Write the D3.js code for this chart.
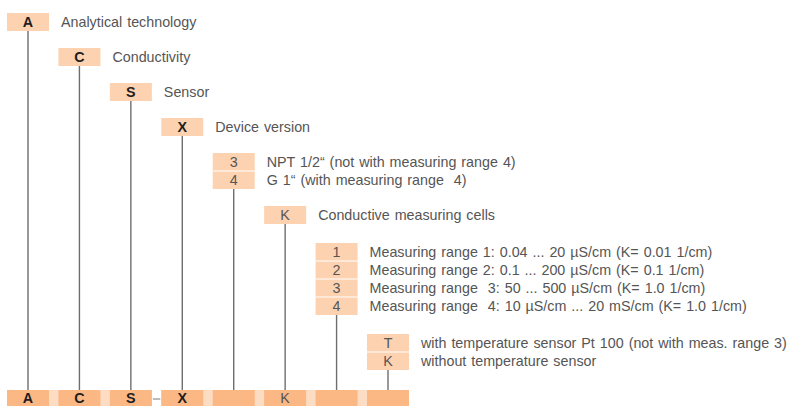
<!DOCTYPE html>
<html>
<head>
<meta charset="utf-8">
<script src="https://cdn.jsdelivr.net/npm/d3@7"></script>
<style>
  body { margin: 0; background: #fff; }
  svg { display: block; font-family: "Liberation Sans", Arial, sans-serif; }
  .label { white-space: pre; word-spacing: 1px; }
</style>
</head>
<body>
<div id="chart"></div>
<script>
// Type code: one column per position
const bottomCodes = ['A', 'C', 'S', 'X', '', 'K', '', ''];
const boldColumns = [0, 1, 2, 3];
const optionCodes = [
    ['A'], ['C'], ['S'], ['X'], ['3', '4'], ['K'], ['1', '2', '3', '4'], ['T', 'K']
];
const optionTexts = [
    ['Analytical technology'],
    ['Conductivity'],
    ['Sensor'],
    ['Device version'],
    ['NPT 1/2\u201c (not with measuring range 4)', 'G 1\u201c (with measuring range  4)'],
    ['Conductive measuring cells'],
    ['Measuring range 1: 0.04 ... 20 \u00b5S/cm (K= 0.01 1/cm)',
     'Measuring range 2: 0.1 ... 200 \u00b5S/cm (K= 0.1 1/cm)',
     'Measuring range  3: 50 ... 500 \u00b5S/cm (K= 1.0 1/cm)',
     'Measuring range  4: 10 \u00b5S/cm ... 20 mS/cm (K= 1.0 1/cm)'],
    ['with temperature sensor Pt 100 (not with meas. range 3)', 'without temperature sensor']
];
// dash shown between these two columns
const dashAfter = 2;

const WIDTH = 791;
const HEIGHT = 406;
const ROW_H = 18;
const TOP = 13;
const GAPS = [0, 17, 17, 17, 17, 17, 19, 19];
const BAR_Y = 390;
const BAR_H = 16;
const FONT = '14.3px';

const svg = d3.select('#chart').append('svg')
    .attr('width', WIDTH)
    .attr('height', HEIGHT);

// Colonnes
const x = d3.scaleBand()
    .domain(d3.range(bottomCodes.length))
    .range([7, 409])
    .paddingInner(0.1833)
    .paddingOuter(0);

// Position verticale de chaque groupe
const groupTop = [];
let yCursor = TOP;
optionCodes.forEach((codes, i) => {
    yCursor += GAPS[i];
    groupTop.push(yCursor);
    yCursor += codes.length * ROW_H;
});

// Barre du bas : fond clair entre les cases
const step = x.step();
svg.append('rect')
    .attr('x', x(0))
    .attr('y', BAR_Y)
    .attr('width', x(bottomCodes.length - 1) + x.bandwidth() - x(0))
    .attr('height', BAR_H)
    .attr('fill', '#fddcc4');

// Espace blanc avec tiret entre S et X
svg.append('rect')
    .attr('x', x(dashAfter) + x.bandwidth())
    .attr('y', BAR_Y)
    .attr('width', step - x.bandwidth())
    .attr('height', BAR_H)
    .attr('fill', '#fff');

svg.append('line')
    .attr('x1', x(dashAfter) + x.bandwidth() + 1)
    .attr('x2', x(dashAfter + 1) - 1)
    .attr('y1', BAR_Y + 9)
    .attr('y2', BAR_Y + 9)
    .attr('stroke', '#777')
    .attr('stroke-width', 1);

// Lignes verticales
svg.selectAll('.link')
    .data(optionCodes)
    .enter()
    .append('line')
    .attr('class', 'link')
    .attr('x1', (d, i) => x(i) + x.bandwidth() / 2)
    .attr('x2', (d, i) => x(i) + x.bandwidth() / 2)
    .attr('y1', (d, i) => groupTop[i] + d.length * ROW_H)
    .attr('y2', BAR_Y)
    .attr('stroke', '#6e6e6e')
    .attr('stroke-width', 1.4);

// Cases du bas
const bottom = svg.selectAll('.bottom')
    .data(bottomCodes)
    .enter()
    .append('g')
    .attr('class', 'bottom');

bottom.append('rect')
    .attr('x', (d, i) => x(i))
    .attr('y', BAR_Y)
    .attr('width', x.bandwidth())
    .attr('height', BAR_H)
    .attr('fill', '#fbb885');

bottom.append('text')
    .attr('x', (d, i) => x(i) + x.bandwidth() / 2)
    .attr('y', BAR_Y + BAR_H / 2 + 5)
    .attr('text-anchor', 'middle')
    .attr('font-size', FONT)
    .attr('font-weight', (d, i) => boldColumns.includes(i) ? 'bold' : 'normal')
    .attr('fill', (d, i) => boldColumns.includes(i) ? '#1e1e1e' : '#555')
    .text(d => d);

// Groupes d'options
optionCodes.forEach((codes, i) => {
    const g = svg.append('g').attr('class', 'group');
    const bold = boldColumns.includes(i);

    g.selectAll('rect')
        .data(codes)
        .enter()
        .append('rect')
        .attr('x', x(i))
        .attr('y', (d, j) => groupTop[i] + j * ROW_H)
        .attr('width', x.bandwidth())
        .attr('height', ROW_H)
        .attr('fill', '#fdd2b0');

    // séparateurs blancs
    g.selectAll('.sep')
        .data(codes.slice(1))
        .enter()
        .append('line')
        .attr('class', 'sep')
        .attr('x1', x(i))
        .attr('x2', x(i) + x.bandwidth())
        .attr('y1', (d, j) => groupTop[i] + (j + 1) * ROW_H)
        .attr('y2', (d, j) => groupTop[i] + (j + 1) * ROW_H)
        .attr('stroke', '#fff')
        .attr('stroke-width', 1);

    g.selectAll('.code')
        .data(codes)
        .enter()
        .append('text')
        .attr('class', 'code')
        .attr('x', x(i) + x.bandwidth() / 2)
        .attr('y', (d, j) => groupTop[i] + j * ROW_H + ROW_H / 2 + 5)
        .attr('text-anchor', 'middle')
        .attr('font-size', FONT)
        .attr('font-weight', bold ? 'bold' : 'normal')
        .attr('fill', bold ? '#1e1e1e' : '#555')
        .text(d => d);

    g.selectAll('.label')
        .data(optionTexts[i])
        .enter()
        .append('text')
        .attr('class', 'label')
        .attr('x', x(i) + x.bandwidth() + 12)
        .attr('y', (d, j) => groupTop[i] + j * ROW_H + ROW_H / 2 + 5)
        .attr('font-size', FONT)
        .attr('fill', '#555')
        .text(d => d);
});
</script>
</body>
</html>
